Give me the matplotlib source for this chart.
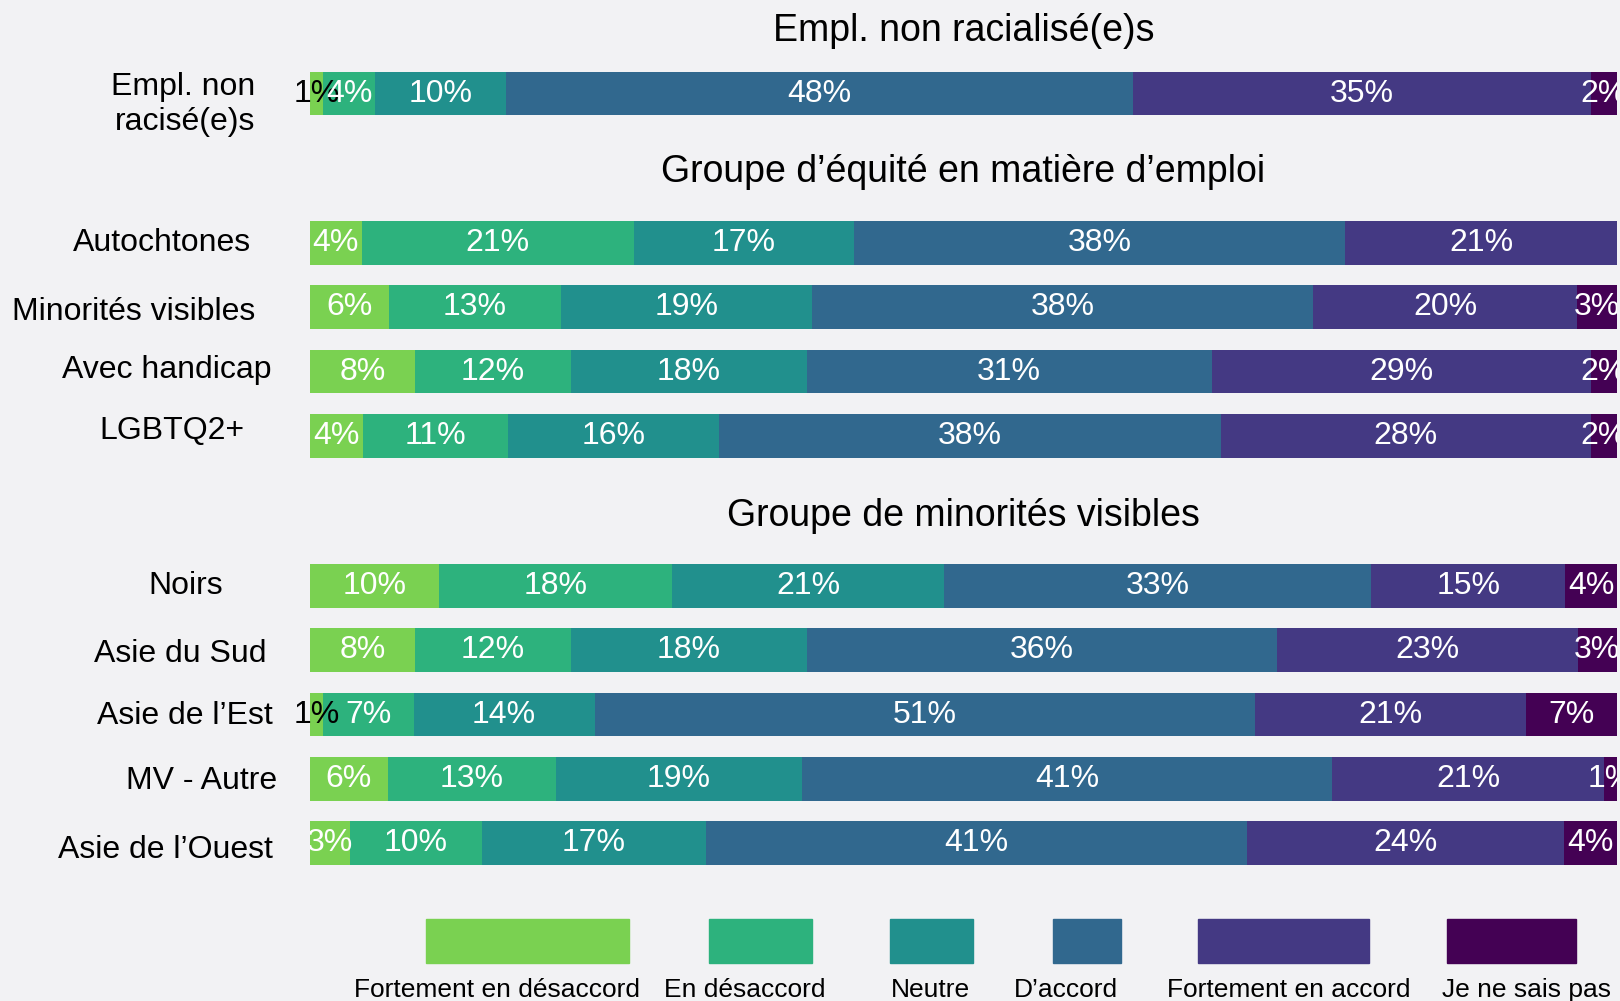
import numpy as np
import matplotlib
matplotlib.use('Agg')
import matplotlib.pyplot as plt
from matplotlib.patches import Rectangle
from matplotlib.transforms import blended_transform_factory

plt.rcParams['font.family'] = ['Liberation Sans', 'DejaVu Sans']

# categories / colours
categories = ['Fortement en désaccord', 'En désaccord', 'Neutre',
              'D’accord', 'Fortement en accord', 'Je ne sais pas']
colors = ['#7ad151', '#2db27d', '#21908d', '#31688e', '#443983', '#440154']

# groups and their rows
group_titles = ['Empl. non racialisé(e)s',
                'Groupe d’équité en matière d’emploi',
                'Groupe de minorités visibles']
group_rows = [['Empl. non\nracisé(e)s'],
              ['Autochtones', 'Minorités visibles', 'Avec handicap', 'LGBTQ2+'],
              ['Noirs', 'Asie du Sud', 'Asie de l’Est', 'MV - Autre', 'Asie de l’Ouest']]

# values in %, one entry per row (same order as group_rows flattened)
fortement_desaccord = [1, 4, 6, 8, 4, 10, 8, 1, 6, 3]
desaccord = [4, 21, 13, 12, 11, 18, 12, 7, 13, 10]
neutre = [10, 17, 19, 18, 16, 21, 18, 14, 19, 17]
accord = [48, 38, 38, 31, 38, 33, 36, 51, 41, 41]
fortement_accord = [35, 21, 20, 29, 28, 15, 23, 21, 21, 24]
ne_sais_pas = [2, 0, 3, 2, 2, 4, 3, 7, 1, 4]

W, H = 1620, 1001
fig = plt.figure(figsize=(W / 100, H / 100), dpi=100)
fig.patch.set_facecolor('#f2f2f4')

data = np.array([fortement_desaccord, desaccord, neutre, accord,
                 fortement_accord, ne_sais_pas]).T
# rounded labels do not always sum to 100, bars are drawn as shares of the row
widths = data / data.sum(axis=1, keepdims=True) * 100

# layout in pixels
x0, x1 = 310, 1617
step = 64.3
first_row_y = [93.5, 243, 586]
title_y = [31, 172, 516]
# the original text boxes are not aligned: right edge and vertical nudge per row label
label_right = [255, 251, 255, 272, 245, 223, 266, 273, 277, 273]
label_dy = [11, 0, 5, -2, -5, 0, 4, 1, 2, 7]

start = 0
for g, labels in enumerate(group_rows):
    n = len(labels)
    top = first_row_y[g] - step / 2
    ax = fig.add_axes([x0 / W, 1 - (top + n * step) / H, (x1 - x0) / W, n * step / H])
    ax.patch.set_visible(False)
    y = np.arange(n)
    left = np.zeros(n)
    for j in range(len(categories)):
        w = widths[start:start + n, j]
        v = data[start:start + n, j]
        ax.barh(y, w, left=left, height=0.68, color=colors[j])
        for i in range(n):
            if v[i] == 0:
                continue
            dark = (j == 0 and v[i] <= 1)
            ax.text(left[i] + w[i] / 2, y[i], f'{v[i]}%', ha='center', va='center',
                    fontsize=23, color='black' if dark else 'white', clip_on=not dark)
        left += w
    ax.set_xlim(0, 100)
    ax.set_ylim(n - 0.5, -0.5)
    ax.set_xticks([])
    ax.set_yticks([])
    for s in ax.spines.values():
        s.set_visible(False)
    trans = blended_transform_factory(fig.transFigure, ax.transData)
    for i, lab in enumerate(labels):
        ax.text(label_right[start + i] / W, y[i] + label_dy[start + i] / step, lab,
                transform=trans, ha='right', va='center', fontsize=23,
                multialignment='right')
    fig.text((x0 + x1) / 2 / W, 1 - title_y[g] / H, group_titles[g],
             ha='center', va='center', fontsize=27)
    start += n

# legend: swatches above the labels
leg = fig.add_axes([0, 0, 1, 1])
leg.set_xlim(0, W)
leg.set_ylim(H, 0)
leg.axis('off')
swatch_x = [(426, 629), (709, 812), (890, 973), (1053, 1121), (1198, 1369), (1447, 1576)]
label_x = [497, 745, 930, 1066, 1289, 1527]
for j, cat in enumerate(categories):
    a, b = swatch_x[j]
    leg.add_patch(Rectangle((a, 919), b - a, 44, color=colors[j]))
    leg.text(label_x[j], 997, cat, ha='center', va='baseline', fontsize=19)

fig.savefig('out.png', dpi=100, facecolor=fig.get_facecolor())
